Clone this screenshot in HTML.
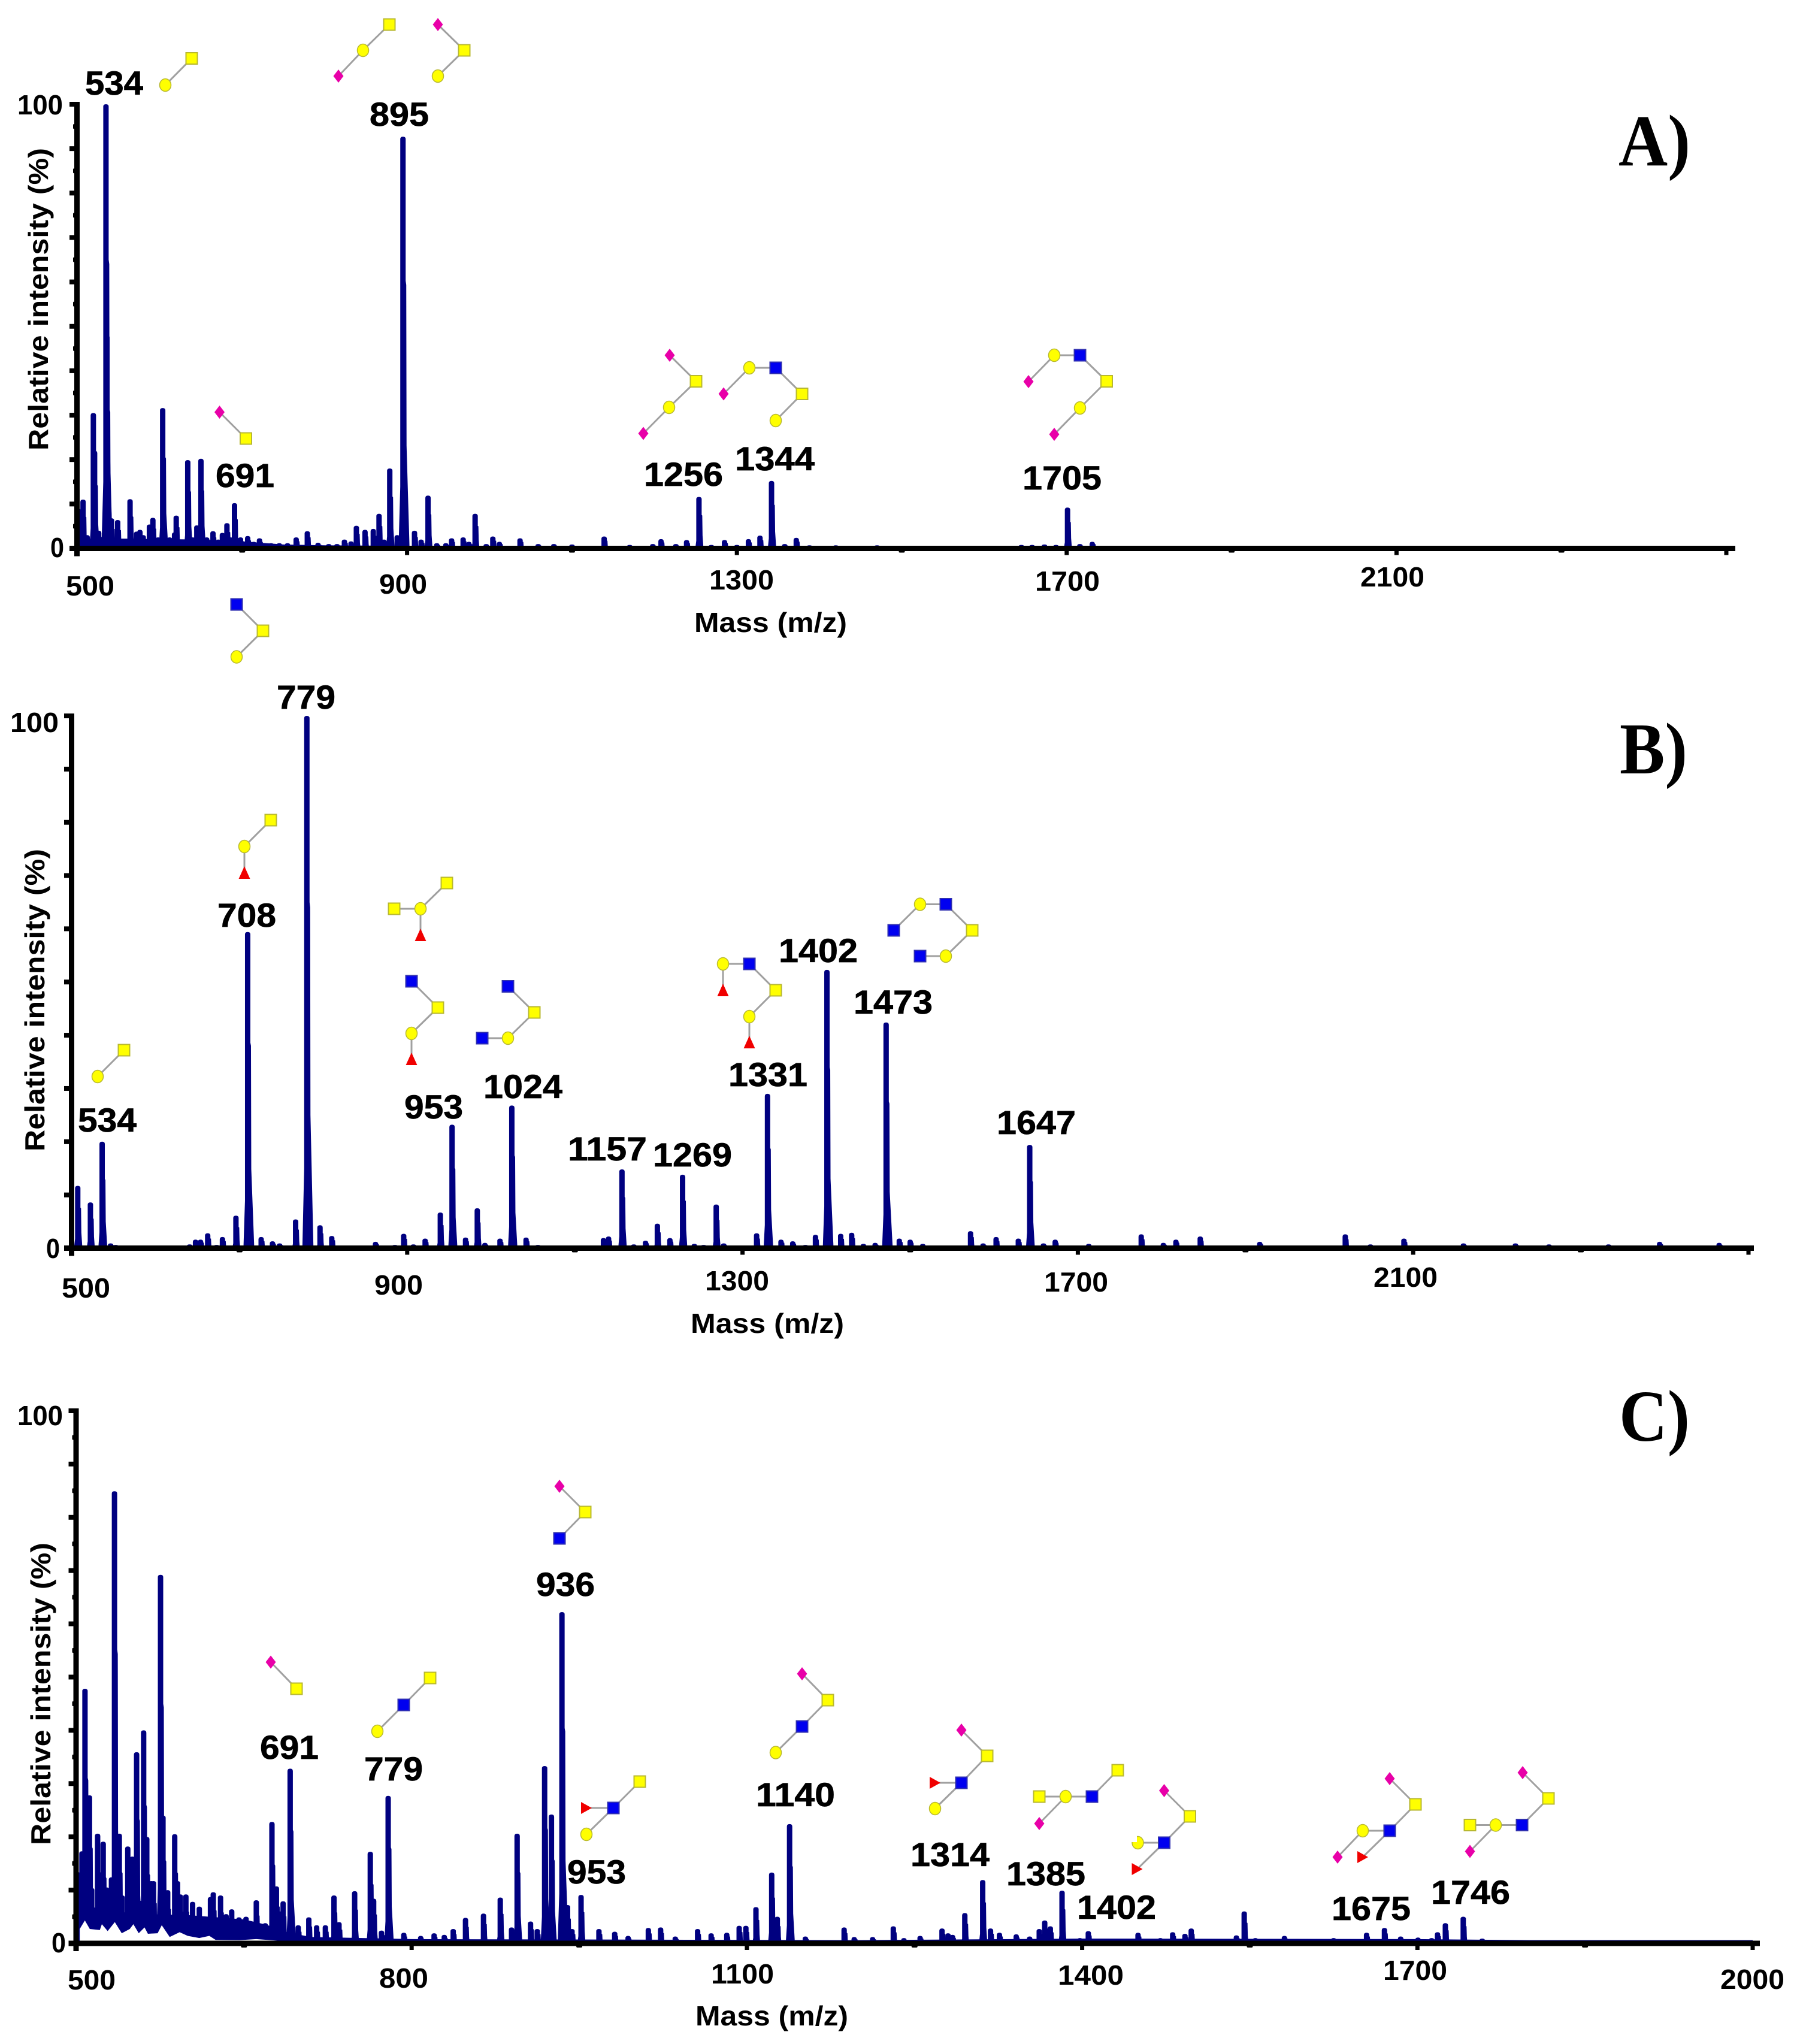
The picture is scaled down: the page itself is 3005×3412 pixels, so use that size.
<!DOCTYPE html>
<html lang="en">
<head>
<meta charset="utf-8">
<title>Mass spectra panels A, B and C</title>
<style>
html,body{margin:0;padding:0;background:#fff}
svg{display:block}
.pk{font:bold 56px "Liberation Sans",sans-serif;fill:#000;stroke:#000;stroke-width:.7px}
.tk{font:bold 46px "Liberation Sans",sans-serif;fill:#000}
.ax{font:bold 46px "Liberation Sans",sans-serif;fill:#000}
.pn{font:bold 122px "Liberation Serif",serif;fill:#000}
</style>
</head>
<body>
<svg id="fig" xmlns="http://www.w3.org/2000/svg" width="3005" height="3412" viewBox="0 0 3005 3412">
<rect width="3005" height="3412" fill="#fff"/>
<g id="marks"></g>
<g id="axes"></g>
<g id="glycans"></g>

<!-- Panel A text -->
<g>
<text class="pn" x="2702" y="276" textLength="120" lengthAdjust="spacingAndGlyphs">A)</text>
<text class="tk" x="29" y="191" textLength="76" lengthAdjust="spacingAndGlyphs">100</text>
<text class="tk" x="84" y="930" textLength="23" lengthAdjust="spacingAndGlyphs">0</text>
<text class="tk" x="110" y="994" textLength="81" lengthAdjust="spacingAndGlyphs">500</text>
<text class="tk" x="633" y="991" textLength="80" lengthAdjust="spacingAndGlyphs">900</text>
<text class="tk" x="1184" y="984" textLength="108" lengthAdjust="spacingAndGlyphs">1300</text>
<text class="tk" x="1728" y="986" textLength="108" lengthAdjust="spacingAndGlyphs">1700</text>
<text class="tk" x="2271" y="979" textLength="107" lengthAdjust="spacingAndGlyphs">2100</text>
<text class="ax" x="1159" y="1055" textLength="255" lengthAdjust="spacingAndGlyphs">Mass (m/z)</text>
<text class="ax" transform="translate(80,752) rotate(-90)" textLength="505" lengthAdjust="spacingAndGlyphs">Relative intensity (%)</text>
<text class="pk" x="142" y="158" textLength="97" lengthAdjust="spacingAndGlyphs">534</text>
<text class="pk" x="617" y="210" textLength="99" lengthAdjust="spacingAndGlyphs">895</text>
<text class="pk" x="360" y="813" textLength="98" lengthAdjust="spacingAndGlyphs">691</text>
<text class="pk" x="1075" y="811" textLength="132" lengthAdjust="spacingAndGlyphs">1256</text>
<text class="pk" x="1227" y="785" textLength="133" lengthAdjust="spacingAndGlyphs">1344</text>
<text class="pk" x="1707" y="817" textLength="132" lengthAdjust="spacingAndGlyphs">1705</text>
</g>

<!-- Panel B text -->
<g>
<text class="pn" x="2704" y="1291" textLength="113" lengthAdjust="spacingAndGlyphs">B)</text>
<text class="tk" x="17" y="1222" textLength="81" lengthAdjust="spacingAndGlyphs">100</text>
<text class="tk" x="77" y="2100" textLength="23" lengthAdjust="spacingAndGlyphs">0</text>
<text class="tk" x="103" y="2166" textLength="81" lengthAdjust="spacingAndGlyphs">500</text>
<text class="tk" x="625" y="2161" textLength="81" lengthAdjust="spacingAndGlyphs">900</text>
<text class="tk" x="1177" y="2154" textLength="107" lengthAdjust="spacingAndGlyphs">1300</text>
<text class="tk" x="1743" y="2156" textLength="107" lengthAdjust="spacingAndGlyphs">1700</text>
<text class="tk" x="2293" y="2148" textLength="107" lengthAdjust="spacingAndGlyphs">2100</text>
<text class="ax" x="1153" y="2225" textLength="256" lengthAdjust="spacingAndGlyphs">Mass (m/z)</text>
<text class="ax" transform="translate(74,1922) rotate(-90)" textLength="505" lengthAdjust="spacingAndGlyphs">Relative intensity (%)</text>
<text class="pk" x="462" y="1183" textLength="98" lengthAdjust="spacingAndGlyphs">779</text>
<text class="pk" x="363" y="1547" textLength="98" lengthAdjust="spacingAndGlyphs">708</text>
<text class="pk" x="130" y="1889" textLength="98" lengthAdjust="spacingAndGlyphs">534</text>
<text class="pk" x="675" y="1867" textLength="98" lengthAdjust="spacingAndGlyphs">953</text>
<text class="pk" x="807" y="1833" textLength="132" lengthAdjust="spacingAndGlyphs">1024</text>
<text class="pk" x="948" y="1937" textLength="132" lengthAdjust="spacingAndGlyphs">1157</text>
<text class="pk" x="1090" y="1947" textLength="132" lengthAdjust="spacingAndGlyphs">1269</text>
<text class="pk" x="1216" y="1813" textLength="132" lengthAdjust="spacingAndGlyphs">1331</text>
<text class="pk" x="1300" y="1606" textLength="132" lengthAdjust="spacingAndGlyphs">1402</text>
<text class="pk" x="1425" y="1692" textLength="132" lengthAdjust="spacingAndGlyphs">1473</text>
<text class="pk" x="1664" y="1893" textLength="132" lengthAdjust="spacingAndGlyphs">1647</text>
</g>

<!-- Panel C text -->
<g>
<text class="pn" x="2703" y="2405" textLength="118" lengthAdjust="spacingAndGlyphs">C)</text>
<text class="tk" x="29" y="2379" textLength="76" lengthAdjust="spacingAndGlyphs">100</text>
<text class="tk" x="86" y="3259" textLength="24" lengthAdjust="spacingAndGlyphs">0</text>
<text class="tk" x="113" y="3321" textLength="80" lengthAdjust="spacingAndGlyphs">500</text>
<text class="tk" x="633" y="3318" textLength="82" lengthAdjust="spacingAndGlyphs">800</text>
<text class="tk" x="1187" y="3311" textLength="105" lengthAdjust="spacingAndGlyphs">1100</text>
<text class="tk" x="1766" y="3313" textLength="110" lengthAdjust="spacingAndGlyphs">1400</text>
<text class="tk" x="2309" y="3305" textLength="107" lengthAdjust="spacingAndGlyphs">1700</text>
<text class="tk" x="2872" y="3320" textLength="107" lengthAdjust="spacingAndGlyphs">2000</text>
<text class="ax" x="1161" y="3381" textLength="255" lengthAdjust="spacingAndGlyphs">Mass (m/z)</text>
<text class="ax" transform="translate(84,3080) rotate(-90)" textLength="505" lengthAdjust="spacingAndGlyphs">Relative intensity (%)</text>
<text class="pk" x="895" y="2664" textLength="98" lengthAdjust="spacingAndGlyphs">936</text>
<text class="pk" x="434" y="2936" textLength="98" lengthAdjust="spacingAndGlyphs">691</text>
<text class="pk" x="608" y="2972" textLength="98" lengthAdjust="spacingAndGlyphs">779</text>
<text class="pk" x="947" y="3144" textLength="98" lengthAdjust="spacingAndGlyphs">953</text>
<text class="pk" x="1262" y="3015" textLength="132" lengthAdjust="spacingAndGlyphs">1140</text>
<text class="pk" x="1520" y="3115" textLength="132" lengthAdjust="spacingAndGlyphs">1314</text>
<text class="pk" x="1680" y="3147" textLength="132" lengthAdjust="spacingAndGlyphs">1385</text>
<text class="pk" x="1798" y="3203" textLength="132" lengthAdjust="spacingAndGlyphs">1402</text>
<text class="pk" x="2223" y="3205" textLength="132" lengthAdjust="spacingAndGlyphs">1675</text>
<text class="pk" x="2389" y="3178" textLength="132" lengthAdjust="spacingAndGlyphs">1746</text>
</g>
</svg>

<script>
// ---- Panel A data ----
const massA = [501,507,512,519.5,521,526,534.8,536,541.5,549,556,564,572,576,580,587.5,591.7,598,603.6,612,618,620,628,634,640,645,650,657,664.6,671,676,681.5,686,690.7,698,706.7,714,721,735,745,755,765.5,779,792,805,815,824,832,838.5,849,859,866,872,879,888,895,909,917,925.4,936,947,954,968,975,982.5,996,1004,1012,1037,1059,1078,1100,1139,1170,1198,1208,1226,1239,1254,1269,1285,1300,1314,1328,1342,1358,1372,1388,1420,1470,1645,1658,1673,1687,1701,1716,1731,1760,1785,2130];
const intensityA = [9,11,3,30.5,22,4,100,48,6.8,6.4,2,11.1,3.8,4.2,3,5.4,6.9,2.5,31.6,2.5,3.6,7.4,2,19.9,2.5,5.2,20.2,2.5,3.9,2,3.5,5.7,2.5,10.2,2.5,2.8,1.5,2.3,1.2,1.2,1.2,2.5,3.9,1.3,1,1,2,1.6,5.1,4.2,4.4,7.8,2,18,3,92.7,4,2,11.9,1.2,1.2,2.3,2.5,1.5,7.8,1,2.7,1.5,2.3,1,1,0.9,2.7,0.8,1,2.1,1,1.9,11.6,0.8,1.9,0.8,2.1,2.9,15.2,1,2.4,0.7,0.7,0.7,0.8,0.8,0.9,0.8,9.2,1,1.5,0.6,0.5,0.4];
const baseMassA = [500,560,650,700,750,800,1000,2500];
const baseLevelA = [2.2,2.2,2,1.6,0.9,0.7,0.5,0.5];

// ---- Panel B data ----
const massB = [507,522.1,536.1,546.2,552.2,561.2,600.3,640.5,647.5,653.5,662,672.6,679.6,695.7,709.7,725.8,739.3,747.8,766.9,780.3,796,810,825.1,862.2,885.3,895.8,907.4,921.4,939.5,953.5,969.6,983.6,992.7,1010.7,1024.8,1041.8,1055.9,1071.9,1134.1,1140.2,1156.2,1170.3,1184.3,1198.4,1213.4,1228.5,1242.5,1253.6,1268.6,1277.6,1316.8,1329.8,1345.9,1359.9,1375,1387,1400.7,1417.1,1430.2,1444.2,1458.2,1471.3,1487,1500,1515,1572,1587,1602.5,1629,1642.6,1659,1673,1713,1775.6,1802,1817,1846,1917,2019,2049,2089,2160,2222,2262,2333,2394,2465];
const intensityB = [11.7,8.6,20,0.9,0.6,0.5,0.4,0.7,1.6,1.6,2.8,0.6,2.1,6.1,59.4,2.1,1.3,0.9,5.4,100,4.3,2.3,0.4,1.2,0.6,2.7,0.7,1.8,6.7,23.2,2,7.5,1,1.8,26.8,2,0.6,0.5,1.9,2.2,14.8,0.7,1.4,4.6,1.9,13.8,0.8,0.6,8.2,0.9,2.8,29,1.6,1.3,0.6,2.5,52.3,2.7,2.9,0.8,1,42.4,1.8,1.6,0.8,3.2,0.9,2.1,1.8,19.4,0.9,1.6,0.8,2.6,1,1.6,2.2,1.2,2.6,0.7,1.8,0.9,0.9,0.7,0.7,1.2,1];
const baseMassB = [500,2500];
const baseLevelB = [0.5,0.5];

// ---- Panel C data ----
const massC = [501,505,507.7,511.7,513.7,519,524,527,530,531.4,534.1,538.4,541,546,550,553.9,557.2,560.2,563,567,569,575.3,577.5,581.7,588,590.5,593,598,604,610,620,622.5,629,634,639,645.5,651.8,661,669,675,679,682,685,691.3,698.5,708,715,722.8,730.5,735,749,763,766,773,779,793,808.1,820.1,829.2,837.2,848.2,864.3,879.3,889.4,894.4,906.4,912.4,919,925.1,934.5,939.5,943.5,951.6,967.6,981.7,993.7,1011.8,1022.8,1035.9,1055.9,1068,1082,1093.1,1099.1,1108.1,1122.2,1127.2,1138.2,1152.3,1212.5,1187,1196,1231,1240.5,1255,1274.6,1280,1284,1295,1311,1318,1326,1341,1353,1361.6,1366.5,1371.5,1382,1398,1405.5,1450,1470,1481,1492,1497.6,1538,1545,1555,1581,1625,1654.5,1670.5,1685,1700.5,1712.7,1718,1725,1741,1758,1772];
const intensityC = [13.4,17.3,47.8,27.8,10.4,20.6,19.1,10.5,7.9,12.4,84.9,20.6,9,18.2,16.3,35.9,8,40,20,11.7,11.7,69.2,24,10,20.5,11.7,9.2,9.2,7.8,6.9,8.7,9.6,9,5.5,6.4,4.9,5,8.1,3.8,22.8,10.7,6,7.9,32.8,3.4,4.9,3.4,3.4,9,4,9.8,17.2,8.4,2.4,27.7,2,1.4,1.9,1.6,2.7,4.8,5.6,8.6,3,20.6,4.1,2.7,33.3,24.2,62.2,7.2,2.7,9.1,2.7,2.2,1.4,2.9,3,1.3,2.7,1.9,2,3.3,3.3,6.8,13.3,5,22.4,1.3,1.2,3,1.2,3.2,1,1.4,2.8,1.9,1.6,5.7,11.9,2.8,2,1.7,1.3,2.7,4.3,3.2,9.9,1,2.3,2,1,2.1,1.8,2.8,1.5,6,1,1.4,1,2,2.9,1.3,1.1,1,2.1,3.8,5,0.9,0.6];
const baseMassC = [500,530,560,600,650,670,690,710,800,1000,1200,1400,1700,1800,2000];
const baseLevelC = [6,6,5.5,5.3,4.5,3.5,2,1.2,0.8,0.7,0.6,0.9,0.8,0.6,0.6];
const gapMassC = [503,507.6,512,521,522.8,528,534.4,540.6,547.8,551,555.8,561,564,572.7,576.4,583.5,592.4,599.6,610,619,624.6,646,661,680];
const gapLevelC = [2.7,4.3,2.7,2.5,3.6,2.3,4,1.9,2.7,3.6,1.9,3,1.8,1.9,3.4,1.2,2.1,1.4,1,1.4,0.65,0.6,0.8,0.5];

// ---- Axis tick values ----
const xTicksA = [500,700,900,1100,1300,1500,1700,1900,2100,2300,2500];
const xTicksB = [500,700,900,1100,1300,1500,1700,1900,2100,2300,2500];
const xTicksC = [500,650,800,950,1100,1250,1400,1550,1700,1850,2000];
const yTicksMajor = [0,10,20,30,40,50,60,70,80,90,100];
const yTicksMinorAC = [5,15,25,35,45,55,65,75,85,95];
const yTicksMinorB = [];

const NS = 'http://www.w3.org/2000/svg';
const marksLayer = document.getElementById('marks');
const axesLayer = document.getElementById('axes');
const glycanLayer = document.getElementById('glycans');
const BLUE = '#000080';

function scaleX(p, mz){ return p.x0 + (mz - p.mzMin) * (p.x1 - p.x0) / (p.mzMax - p.mzMin); }
function scaleY(p, v){ return p.y0 + (p.y100 - p.y0) * v / 100; }

function peakPath(x, top, base){
  const h = base - top;
  const r = Math.min(4, h * 0.4);
  const rightFoot = 5 + Math.min(1.5 + h * 0.012, 6);
  const leftFoot = 5.5 + Math.min(0.5 + h * 0.002, 2);
  return 'M' + (x - leftFoot) + ' ' + base +
    'L' + (x - 4.5) + ' ' + (base - h * 0.15) +
    'L' + (x - 4.5) + ' ' + (top + r) +
    'Q' + (x - 4.5) + ' ' + top + ' ' + x + ' ' + top +
    'Q' + (x + 4.5) + ' ' + top + ' ' + (x + 4.5) + ' ' + (top + r) +
    'L' + (x + 4.5) + ' ' + (top + h * 0.35) +
    'L' + (x + 5.5) + ' ' + (top + h * 0.36) +
    'L' + (x + 6) + ' ' + (top + h * 0.75) +
    'L' + (x + rightFoot) + ' ' + base + 'Z';
}

function drawPanel(p, mz, vals, baseMz, baseVals, xTicks, yMinor){
  const g = document.createElementNS(NS, 'g');
  
  
  g.setAttribute('fill', BLUE);
  marksLayer.appendChild(g);

  let d = 'M' + scaleX(p, baseMz[0]) + ' ' + p.y0;
  baseMz.forEach(function(m, i){ d += 'L' + scaleX(p, m) + ' ' + scaleY(p, baseVals[i]); });
  d += 'L' + scaleX(p, baseMz[baseMz.length - 1]) + ' ' + p.y0 + 'Z';
  const base = document.createElementNS(NS, 'path');
  base.setAttribute('d', d);
  
  
  g.appendChild(base);

  mz.forEach(function(m, i){
    const peak = document.createElementNS(NS, 'path');
    peak.setAttribute('d', peakPath(scaleX(p, m), scaleY(p, vals[i]), p.y0));
    
    
    g.appendChild(peak);
  });

  const yLine = document.createElementNS(NS, 'rect');
  yLine.setAttribute('x', p.x0 - 5);
  yLine.setAttribute('y', p.y100 - 4);
  yLine.setAttribute('width', 9);
  yLine.setAttribute('height', p.y0 - p.y100 + 17);
  yLine.setAttribute('fill', '#000');
  
  
  axesLayer.appendChild(yLine);

  const xLine = document.createElementNS(NS, 'rect');
  xLine.setAttribute('x', p.x0 - 13);
  xLine.setAttribute('y', p.y0 - 4.5);
  xLine.setAttribute('width', p.xEnd - p.x0 + 13);
  xLine.setAttribute('height', 9);
  xLine.setAttribute('fill', '#000');
  
  
  axesLayer.appendChild(xLine);

  yTicksMajor.forEach(function(v){
    const t = document.createElementNS(NS, 'rect');
    t.setAttribute('x', p.x0 - 13);
    t.setAttribute('y', scaleY(p, v) - 4);
    t.setAttribute('width', 10);
    t.setAttribute('height', 8);
    t.setAttribute('fill', '#000');
    
    
    axesLayer.appendChild(t);
  });

  yMinor.forEach(function(v){
    const t = document.createElementNS(NS, 'rect');
    t.setAttribute('x', p.x0 - 7);
    t.setAttribute('y', scaleY(p, v) - 4);
    t.setAttribute('width', 4);
    t.setAttribute('height', 8);
    t.setAttribute('rx', 1.5);
    t.setAttribute('fill', '#000');
    
    
    axesLayer.appendChild(t);
  });

  xTicks.forEach(function(m, i){
    const major = i % 2 === 0;
    const t = document.createElementNS(NS, 'rect');
    t.setAttribute('x', scaleX(p, m) - (major ? 3.5 : 5));
    t.setAttribute('y', p.y0);
    t.setAttribute('width', major ? 7 : 10);
    t.setAttribute('height', major ? 11 : 7);
    t.setAttribute('rx', major ? 0 : 2);
    t.setAttribute('fill', '#000');
    
    
    axesLayer.appendChild(t);
  });
}

const panelA = {id:'a', x0:129, x1:2882, xEnd:2897, mzMin:500, mzMax:2500, y0:915.5, y100:174};
const panelB = {id:'b', x0:120, x1:2919, xEnd:2928, mzMin:500, mzMax:2500, y0:2083.5, y100:1195};
const panelC = {id:'c', x0:127.5, x1:2926, xEnd:2938, mzMin:500, mzMax:2000, y0:3244, y100:2355};
drawPanel(panelA, massA, intensityA, baseMassA, baseLevelA, xTicksA, yTicksMinorAC);
drawPanel(panelB, massB, intensityB, baseMassB, baseLevelB, xTicksB, yTicksMinorB);
drawPanel(panelC, massC, intensityC, baseMassC, baseLevelC, xTicksC, yTicksMinorAC);

// White gap under the raised low-mass baseline of panel C
let gapD = 'M' + scaleX(panelC, gapMassC[0]) + ' ' + panelC.y0;
gapMassC.forEach(function(m, i){ gapD += 'L' + scaleX(panelC, m) + ' ' + scaleY(panelC, gapLevelC[i]); });
gapD += 'L' + scaleX(panelC, gapMassC[gapMassC.length - 1]) + ' ' + panelC.y0 + 'Z';
const gapPath = document.createElementNS(NS, 'path');
gapPath.setAttribute('d', gapD);
gapPath.setAttribute('fill', '#fff');


marksLayer.appendChild(gapPath);

// ---- Glycan cartoons (annotation graphics) ----
function glycan(name, nodes, edges){
  const g = document.createElementNS(NS, 'g');
  
  
  glycanLayer.appendChild(g);
  edges.forEach(function(e){
    const l = document.createElementNS(NS, 'line');
    l.setAttribute('x1', nodes[e[0]][1]);
    l.setAttribute('y1', nodes[e[0]][2]);
    l.setAttribute('x2', nodes[e[1]][1]);
    l.setAttribute('y2', nodes[e[1]][2]);
    l.setAttribute('stroke', '#a0a0a0');
    l.setAttribute('stroke-width', '3');
    
    
    g.appendChild(l);
  });
  nodes.forEach(function(n){
    const t = n[0], x = n[1], y = n[2];
    let el;
    if (t === 'S' || t === 'B') {
      el = document.createElementNS(NS, 'rect');
      el.setAttribute('x', x - 9.5);
      el.setAttribute('y', y - 9.5);
      el.setAttribute('width', 19);
      el.setAttribute('height', 19);
      el.setAttribute('fill', t === 'S' ? '#ffff00' : '#0000f0');
      el.setAttribute('stroke', t === 'S' ? '#b8b830' : '#3030b0');
      el.setAttribute('stroke-width', '2');
    } else if (t === 'C') {
      el = document.createElementNS(NS, 'ellipse');
      el.setAttribute('cx', x);
      el.setAttribute('cy', y);
      el.setAttribute('rx', 9.5);
      el.setAttribute('ry', 10.5);
      el.setAttribute('fill', '#ffff00');
      el.setAttribute('stroke', '#b8b830');
      el.setAttribute('stroke-width', '1.5');
    } else {
      el = document.createElementNS(NS, 'polygon');
      let pts;
      if (t === 'D') pts = [[x, y - 11], [x + 8.5, y], [x, y + 11], [x - 8.5, y]];
      else if (t === 'T') pts = [[x, y - 12], [x + 9.5, y + 9], [x - 9.5, y + 9]];
      else pts = [[x - 9, y - 10], [x + 9, y], [x - 9, y + 10]];
      el.setAttribute('points', pts.map(function(q){ return q.join(','); }).join(' '));
      el.setAttribute('fill', t === 'D' ? '#e800a8' : '#f00000');
    }
    
    
    g.appendChild(el);
  });
}

// Panel A
glycan('glycan-a-534', [['C',276,142],['S',320,97.5]], [[0,1]]);
glycan('glycan-a-895-left', [['D',565,127],['C',606,84],['S',650,41]], [[0,1],[1,2]]);
glycan('glycan-a-895-right', [['D',731,41],['S',775,84],['C',731,127]], [[0,1],[1,2]]);
glycan('glycan-a-691', [['D',366.5,688],['S',410.5,732]], [[0,1]]);
glycan('glycan-a-1256', [['D',1118,593],['S',1162,636.5],['C',1117,680],['D',1074,723.5]], [[0,1],[1,2],[2,3]]);
glycan('glycan-a-1344', [['D',1208,657.5],['C',1251,614],['B',1295,614],['S',1339,657.5],['C',1295,702]], [[0,1],[1,2],[2,3],[3,4]]);
glycan('glycan-a-1705', [['D',1717,637],['C',1760,593],['B',1803,593],['S',1847.5,636.5],['C',1803,681],['D',1760,725]], [[0,1],[1,2],[2,3],[3,4],[4,5]]);
// Panel B
glycan('glycan-b-779', [['B',395,1009],['S',439,1053],['C',395,1096.5]], [[0,1],[1,2]]);
glycan('glycan-b-708', [['S',452,1369],['C',408,1413],['T',408,1458]], [[0,1],[1,2]]);
glycan('glycan-b-534', [['C',163,1797],['S',207,1753]], [[0,1]]);
glycan('glycan-b-953-upper', [['S',746,1474],['C',702,1517],['S',658,1517],['T',702,1562]], [[0,1],[1,2],[1,3]]);
glycan('glycan-b-953-lower', [['B',687,1638],['S',731,1682],['C',687,1725],['T',687,1769]], [[0,1],[1,2],[2,3]]);
glycan('glycan-b-1024', [['B',848,1646.5],['S',892,1690],['C',848,1733],['B',805,1733]], [[0,1],[1,2],[2,3]]);
glycan('glycan-b-1331', [['C',1207,1609],['B',1251,1609],['S',1295,1653],['C',1251,1697],['T',1251,1741],['T',1207,1654]], [[0,1],[1,2],[2,3],[3,4],[0,5]]);
glycan('glycan-b-1473', [['B',1492,1553],['C',1536,1509.5],['B',1579,1509.5],['S',1623,1553],['C',1579,1596],['B',1536,1596]], [[0,1],[1,2],[2,3],[3,4],[4,5]]);
// Panel C
glycan('glycan-c-936', [['D',934,2481],['S',977,2524],['B',934,2568]], [[0,1],[1,2]]);
glycan('glycan-c-691', [['D',452,2774.5],['S',495,2819]], [[0,1]]);
glycan('glycan-c-779', [['C',630,2890],['B',674,2846],['S',718,2801]], [[0,1],[1,2]]);
glycan('glycan-c-953', [['R',979,3018],['B',1024,3018],['S',1068,2974],['C',979,3062]], [[0,1],[1,2],[1,3]]);
glycan('glycan-c-1140', [['D',1339,2794],['S',1382,2838],['B',1339,2882],['C',1295,2925.5]], [[0,1],[1,2],[2,3]]);
glycan('glycan-c-1314', [['D',1605,2888],['S',1648,2931],['B',1605,2976],['R',1561,2976],['C',1561,3019]], [[0,1],[1,2],[2,3],[2,4]]);
glycan('glycan-c-1385', [['S',1866,2955],['B',1823,2999],['C',1779,2999],['S',1735,2999],['D',1735,3044]], [[0,1],[1,2],[2,3],[2,4]]);
glycan('glycan-c-1402', [['D',1943.5,2989],['S',1986.5,3032],['B',1943.5,3076],['C',1899.5,3076],['R',1898.5,3120]], [[0,1],[1,2],[2,3],[2,4]]);
glycan('glycan-c-1675', [['D',2320,2969],['S',2363,3012],['B',2320,3056],['C',2275,3056],['D',2233,3100],['R',2275,3100]], [[0,1],[1,2],[2,3],[3,4],[2,5]]);
glycan('glycan-c-1746', [['D',2542,2959],['S',2585,3002],['B',2541,3046.5],['C',2497,3046.5],['S',2454,3046.5],['D',2454,3090.5]], [[0,1],[1,2],[2,3],[3,4],[3,5]]);

const patch = document.createElementNS(NS, 'rect');
patch.setAttribute('x', 1888);
patch.setAttribute('y', 3063);
patch.setAttribute('width', 10);
patch.setAttribute('height', 12);
patch.setAttribute('fill', '#fff');


glycanLayer.appendChild(patch);
</script>
</body>
</html>
